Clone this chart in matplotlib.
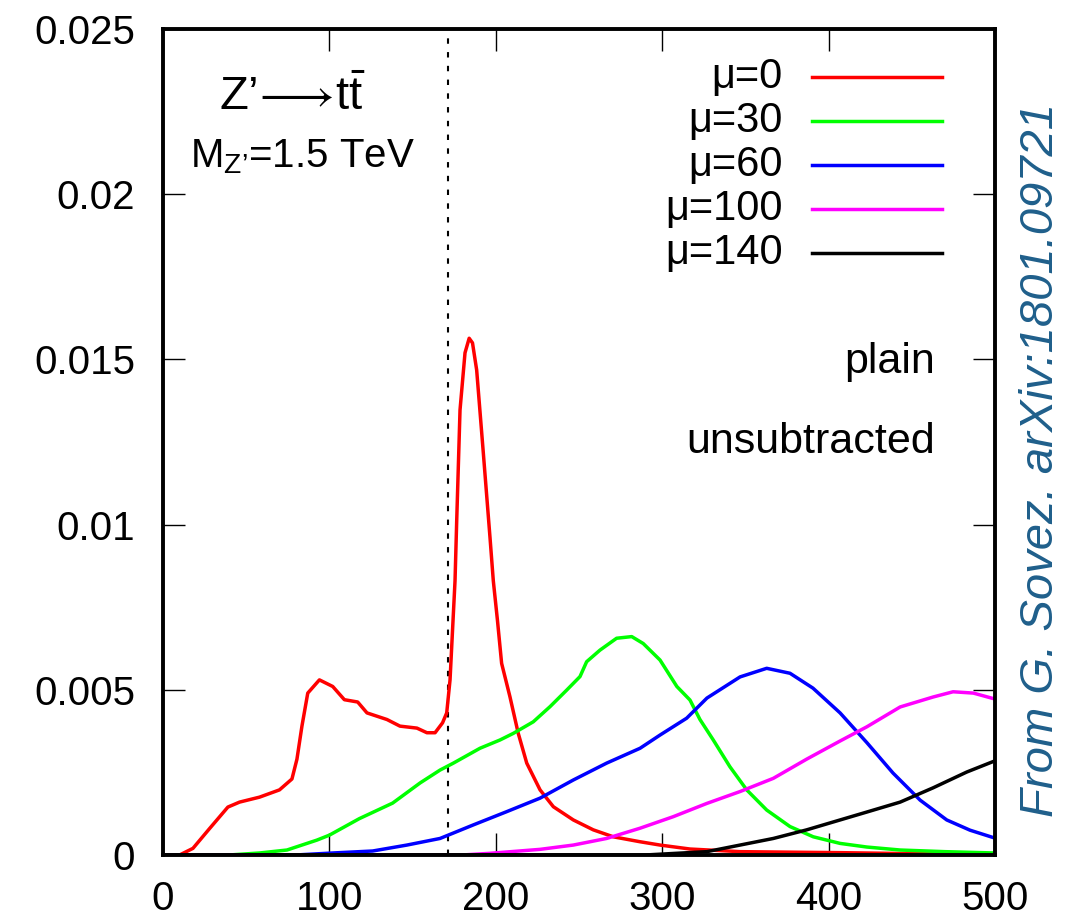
import numpy as np
import matplotlib
matplotlib.use("Agg")
import matplotlib.pyplot as plt

plt.rcParams['font.family'] = ['Liberation Sans', 'DejaVu Sans']
plt.rcParams['mathtext.fontset'] = 'custom'
plt.rcParams['mathtext.rm'] = 'Liberation Sans'
plt.rcParams['mathtext.it'] = 'Liberation Sans:italic'
plt.rcParams['mathtext.fallback'] = 'stixsans'

# datos (masa en GeV, distribucion normalizada)
x_mu0 = [0, 10, 18, 28, 39, 46, 58, 70, 77.5, 80.5, 83.5, 87, 94, 102, 109, 117,
         122.6, 134.6, 142.4, 152.6, 158.6, 163.5, 168, 170.5, 172.5, 174, 175.5,
         176.5, 178.5, 181.5, 184, 186, 188.5, 192.5, 196.5, 198.5, 201, 203.5,
         208.5, 213.5, 218.6, 226.6, 234.6, 246.6, 258.6, 270.6, 286.7, 298.7,
         316.7, 346.8, 406.9, 450, 500]
y_mu0 = [0, 0, 0.0002, 0.0008, 0.00145, 0.0016, 0.00175, 0.00197, 0.0023, 0.0029,
         0.0039, 0.0049, 0.0053, 0.0051, 0.0047, 0.00463, 0.0043, 0.0041, 0.0039,
         0.00384, 0.0037, 0.0037, 0.0040, 0.0043, 0.0053, 0.0068, 0.0083, 0.0101,
         0.01347, 0.0152, 0.01564, 0.0155, 0.01468, 0.01217, 0.00962, 0.0083,
         0.0071, 0.0058, 0.00479, 0.00368, 0.00278, 0.00197, 0.00146, 0.00106,
         0.00076, 0.00055, 0.0004, 0.0003, 0.00018, 0.0001, 0.00007, 0.00004,
         0.00002]

x_mu30 = [0, 40, 58, 74.5, 92.5, 100, 118, 138, 154.5, 166.5, 174.5, 190.5, 202.5,
          210.5, 222.5, 232.6, 242.6, 250.6, 254.6, 262.6, 272.6, 281.7, 288.6,
          298.7, 308.8, 316.7, 322.7, 330.7, 340.7, 350.8, 362.8, 376.8, 390.8,
          406.9, 423, 443, 470, 500]
y_mu30 = [0, 0, 0.00006, 0.00015, 0.00045, 0.0006, 0.0011, 0.00157, 0.00218,
          0.00257, 0.00278, 0.00323, 0.00348, 0.00368, 0.00403, 0.00449, 0.00499,
          0.0054, 0.00585, 0.0062, 0.00656, 0.00661, 0.0064, 0.0059, 0.0051,
          0.00469, 0.0041, 0.00348, 0.00267, 0.00197, 0.00136, 0.00086, 0.00055,
          0.00035, 0.00024, 0.00015, 0.0001, 0.00006]

x_mu60 = [0, 80, 102, 126, 146.6, 166.5, 186.5, 206.5, 226.6, 246.6, 266.6, 286.7,
          298.7, 314.7, 326.9, 346.8, 362.8, 376.8, 390.6, 406.9, 423, 438.7, 455,
          471, 485, 500]
y_mu60 = [0, 0, 0.00006, 0.00012, 0.0003, 0.0005, 0.00091, 0.00131, 0.00172,
          0.00227, 0.00278, 0.00323, 0.00363, 0.00414, 0.00475, 0.00539, 0.00565,
          0.0055, 0.00505, 0.0043, 0.0034, 0.00248, 0.00166, 0.00106, 0.00075,
          0.00051]

x_mu100 = [0, 180, 196.5, 226.6, 246.6, 266.6, 286.7, 306.7, 326.8, 346.8, 366.8,
           386.8, 406.9, 423, 443, 462.7, 474.8, 487, 500]
y_mu100 = [0, 0, 0.00005, 0.00017, 0.0003, 0.0005, 0.00081, 0.00116, 0.00156,
           0.00192, 0.00232, 0.0029, 0.00345, 0.00388, 0.00448, 0.00478, 0.00494,
           0.0049, 0.00472]

x_mu140 = [0, 290, 326.8, 346.8, 366.8, 386.8, 406.9, 423, 443, 462.7, 483, 500]
y_mu140 = [0, 0, 0.0001, 0.0003, 0.0005, 0.00076, 0.00106, 0.0013, 0.0016,
           0.00203, 0.00251, 0.00285]

etiquetas = ['μ=0', 'μ=30', 'μ=60', 'μ=100', 'μ=140']
colores = ['#ff0000', '#00ff00', '#0000ff', '#ff00ff', '#000000']
series = [(x_mu0, y_mu0), (x_mu30, y_mu30), (x_mu60, y_mu60),
          (x_mu100, y_mu100), (x_mu140, y_mu140)]

x_ticks = [0, 100, 200, 300, 400, 500]
y_ticks = [0, 0.005, 0.01, 0.015, 0.02, 0.025]
y_tick_labels = ['0', '0.005', '0.01', '0.015', '0.02', '0.025']
m_top = 171

fig = plt.figure(figsize=(10.66, 9.22), dpi=100)
ax = fig.add_axes([0.1529, 0.0727, 0.7805, 0.8958])

ax.axvline(m_top, color='black', lw=1.5, ls=(0, (2.6, 4.0)), zorder=1)

for (xs, ys), c in zip(series, colores):
    ax.plot(xs, ys, color=c, lw=2.5, zorder=2)

ax.set_xlim(0, 500)
ax.set_ylim(0, 0.025)
ax.set_xticks(x_ticks)
ax.set_xticklabels([str(v) for v in x_ticks])
ax.set_yticks(y_ticks)
ax.set_yticklabels(y_tick_labels)
ax.tick_params(direction='in', length=16, width=1.0, top=True, right=True,
               labelsize=29)
ax.tick_params(axis='y', pad=20)
ax.tick_params(axis='x', pad=18)
for s in ax.spines.values():
    s.set_linewidth(2.8)

# leyenda manual, texto alineado a la derecha
filas = [0.942, 0.889, 0.835, 0.782, 0.729]
for lab, c, yy in zip(etiquetas, colores, filas):
    ax.text(0.745, yy, lab, transform=ax.transAxes, ha='right', va='center',
            fontsize=30)
    ax.plot([0.780, 0.936], [yy, yy], transform=ax.transAxes, color=c, lw=2.5)

ax.text(0.155, 0.917,
        "$\\mathrm{Z’}\\!\\longrightarrow\\!\\mathrm{t}\\bar{\\mathrm{t}}$",
        transform=ax.transAxes, ha='center', va='center', fontsize=34)
ax.text(0.032, 0.846, "M$_{\\mathrm{Z’}}$=1.5 TeV", transform=ax.transAxes,
        ha='left', va='center', fontsize=29)
ax.text(0.928, 0.597, "plain", transform=ax.transAxes, ha='right',
        va='center', fontsize=31)
ax.text(0.928, 0.500, "unsubtracted", transform=ax.transAxes, ha='right',
        va='center', fontsize=31)

fig.text(0.977, 0.501, "From G. Sovez. arXiv:1801.09721", rotation=90,
         ha='center', va='center', fontsize=34, style='italic',
         color='#1f5f8b')

fig.savefig("out.png", dpi=100)
